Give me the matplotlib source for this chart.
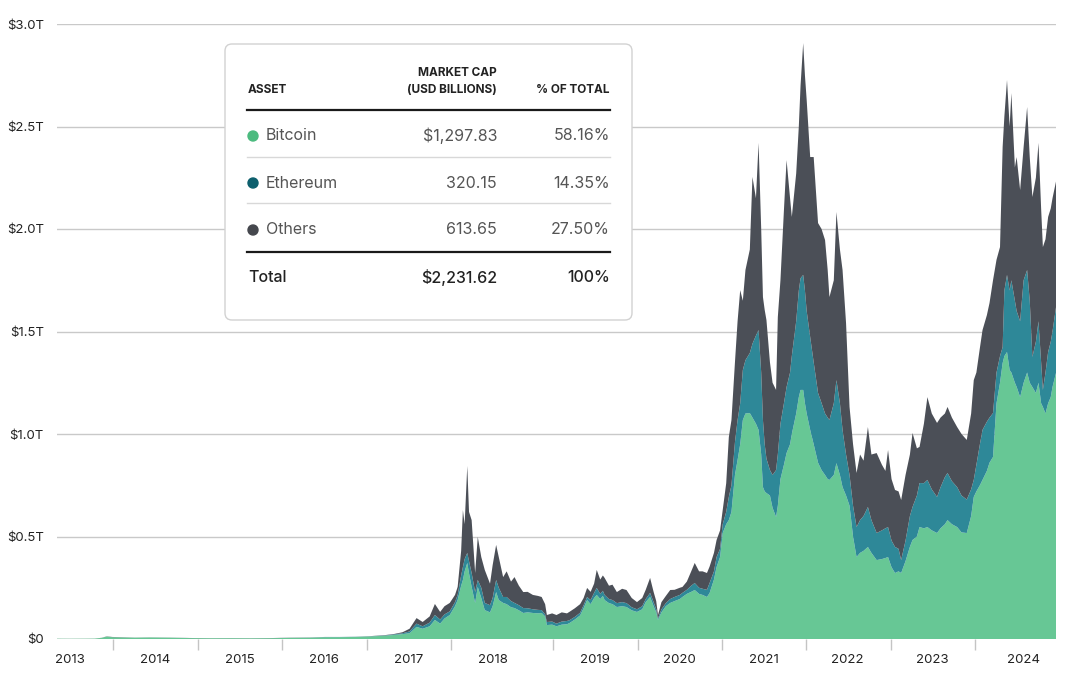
import matplotlib.pyplot as plt
import numpy as np
from matplotlib.patches import FancyBboxPatch, Circle

plt.rcParams['font.family'] = ['Inter', 'DejaVu Sans']

# time in decimal years
years = [
    2013.33, 2013.48, 2013.65, 2013.76, 2013.84, 2013.90, 2013.96, 2014.05, 2014.22, 2014.39,
    2014.62, 2014.85, 2015.08, 2015.31, 2015.54, 2015.76, 2015.99, 2016.22, 2016.39, 2016.56,
    2016.74, 2016.91, 2017.08, 2017.19, 2017.28, 2017.36, 2017.44, 2017.51, 2017.59, 2017.65,
    2017.71, 2017.76, 2017.82, 2017.88, 2017.91, 2017.95, 2017.97, 2017.99, 2018.02, 2018.04,
    2018.07, 2018.11, 2018.14, 2018.18, 2018.22, 2018.28, 2018.31, 2018.35, 2018.38, 2018.43,
    2018.47, 2018.52, 2018.56, 2018.61, 2018.66, 2018.71, 2018.77, 2018.83, 2018.87, 2018.91,
    2018.93, 2018.99, 2019.04, 2019.10, 2019.16, 2019.19, 2019.25, 2019.31, 2019.35, 2019.39,
    2019.43, 2019.47, 2019.50, 2019.54, 2019.57, 2019.59, 2019.64, 2019.68, 2019.73, 2019.79,
    2019.84, 2019.90, 2019.96, 2020.02, 2020.06, 2020.11, 2020.15, 2020.18, 2020.20, 2020.24,
    2020.29, 2020.34, 2020.39, 2020.45, 2020.48, 2020.53, 2020.58, 2020.62, 2020.67, 2020.71,
    2020.76, 2020.79, 2020.84, 2020.87, 2020.91, 2020.94, 2020.98, 2021.01, 2021.04, 2021.08,
    2021.11, 2021.14, 2021.17, 2021.20, 2021.25, 2021.28, 2021.32, 2021.35, 2021.38, 2021.40,
    2021.42, 2021.44, 2021.48, 2021.51, 2021.55, 2021.57, 2021.60, 2021.64, 2021.67, 2021.71,
    2021.73, 2021.78, 2021.81, 2021.83, 2021.86, 2021.88, 2021.90, 2021.94, 2021.98, 2022.03,
    2022.07, 2022.11, 2022.14, 2022.16, 2022.21, 2022.24, 2022.28, 2022.31, 2022.35, 2022.39,
    2022.43, 2022.47, 2022.51, 2022.55, 2022.60, 2022.64, 2022.70, 2022.76, 2022.80, 2022.83,
    2022.87, 2022.91, 2022.95, 2022.98, 2023.03, 2023.08, 2023.11, 2023.16, 2023.19, 2023.24,
    2023.28, 2023.33, 2023.39, 2023.43, 2023.48, 2023.51, 2023.56, 2023.62, 2023.67, 2023.73,
    2023.78, 2023.81, 2023.84, 2023.88, 2023.91, 2023.96, 2023.99, 2024.03, 2024.07, 2024.11,
    2024.14, 2024.16, 2024.19, 2024.22, 2024.24, 2024.28, 2024.30, 2024.34, 2024.38, 2024.42,
    2024.45, 2024.48, 2024.52, 2024.55, 2024.58, 2024.60, 2024.63, 2024.66, 2024.69, 2024.71,
    2024.75,
]

# market cap, USD billions
btc_cap = [
    1.4, 1.1, 1.4, 1.9, 5.5, 12, 9, 8, 6.5, 7.5,
    6.5, 4.5, 3.6, 3.8, 3.3, 3.9, 5.6, 6.4, 8.8, 9,
    10, 12.5, 16, 20, 24, 28, 59, 50, 62, 93,
    75, 100, 117, 160, 190, 260, 288, 330, 371, 320,
    254, 176, 254, 200, 141, 130, 160, 229, 190, 176,
    170, 155, 151, 140, 127, 130, 127, 125, 127, 110,
    68, 70, 62, 70, 72, 78, 95, 115, 150, 190,
    170, 200, 215, 195, 210, 190, 175, 170, 156, 160,
    156, 140, 132, 145, 180, 205, 160, 130, 93, 130,
    160, 176, 185, 195, 205, 220, 230, 239, 220, 215,
    205, 224, 290, 351, 400, 517, 560, 580, 620, 800,
    873, 950, 1068, 1100, 1102, 1080, 1050, 1020, 900, 741,
    720, 712, 700, 640, 595, 650, 780, 850, 907, 950,
    1000, 1100, 1180, 1215, 1215, 1150, 1100, 1020, 950, 860,
    824, 800, 780, 776, 800, 858, 800, 741, 700, 650,
    500, 400, 420, 430, 449, 420, 385, 390, 395, 400,
    350, 322, 330, 322, 380, 450, 483, 500, 546, 540,
    546, 530, 517, 540, 560, 580, 560, 546, 520, 517,
    600, 693, 720, 750, 776, 820, 860, 888, 1150, 1250,
    1346, 1380, 1400, 1312, 1300, 1250, 1230, 1180, 1250, 1300,
    1250, 1229, 1200, 1250, 1150, 1132, 1100, 1150, 1180, 1229,
    1297.83,
]

# bitcoin + ethereum (top of the teal band)
btc_eth_cap = [
    1.4, 1.1, 1.4, 1.9, 5.5, 12, 9, 8, 6.5, 7.5,
    6.5, 4.5, 3.6, 3.8, 3.4, 4.0, 5.7, 6.8, 9.8, 9.9,
    10.7, 13.3, 17.5, 23, 28, 37, 75, 62, 80, 117,
    95, 120, 135, 180, 215, 310, 351, 390, 420, 380,
    322, 229, 288, 250, 176, 165, 200, 288, 250, 205,
    205, 185, 176, 165, 151, 150, 145, 142, 141, 120,
    83, 85, 75, 85, 88, 92, 108, 128, 165, 205,
    190, 225, 249, 220, 235, 215, 195, 190, 175, 180,
    175, 155, 145, 160, 195, 225, 180, 145, 100, 145,
    175, 195, 205, 215, 225, 240, 260, 273, 250, 245,
    240, 273, 330, 400, 440, 560, 620, 693, 750, 960,
    1068, 1150, 1312, 1360, 1395, 1440, 1480, 1507, 1300, 1068,
    950, 880, 824, 800, 824, 900, 1050, 1150, 1229, 1300,
    1380, 1550, 1700, 1760, 1776, 1700, 1600, 1473, 1350, 1200,
    1151, 1100, 1080, 1068, 1150, 1263, 1150, 1020, 900, 800,
    650, 546, 580, 600, 644, 580, 517, 530, 540, 546,
    480, 449, 440, 385, 480, 600, 644, 700, 761, 760,
    776, 730, 693, 740, 790, 810, 770, 741, 700, 680,
    730, 776, 850, 950, 1020, 1060, 1080, 1102, 1300, 1380,
    1424, 1700, 1776, 1700, 1750, 1650, 1600, 1550, 1750, 1800,
    1650, 1376, 1450, 1550, 1350, 1215, 1300, 1400, 1450, 1500,
    1617.98,
]

total_cap = [
    1.5, 1.2, 1.5, 2.0, 6, 13, 10, 9, 7, 8,
    7, 5, 4, 4.2, 3.8, 4.5, 6.5, 7.5, 10, 10,
    11, 14, 19, 25, 33, 50, 102, 83, 110, 171,
    132, 160, 176, 215, 254, 430, 629, 560, 844, 620,
    580, 322, 498, 400, 337, 270, 360, 459, 400, 302,
    330, 280, 302, 260, 229, 230, 215, 210, 205, 170,
    117, 125, 117, 130, 125, 133, 150, 170, 200, 249,
    230, 270, 337, 290, 310, 298, 260, 265, 229, 245,
    239, 200, 180, 200, 240, 298, 230, 185, 117, 180,
    210, 239, 240, 250, 254, 280, 330, 371, 330, 330,
    322, 353, 420, 483, 530, 629, 760, 985, 1068, 1350,
    1550, 1702, 1650, 1800, 1900, 2254, 2150, 2420, 2000, 1668,
    1605, 1556, 1350, 1250, 1215, 1570, 1750, 2093, 2336, 2150,
    2059, 2271, 2500, 2700, 2907, 2750, 2629, 2351, 2351, 2029,
    2000, 1946, 1800, 1668, 1750, 2083, 1900, 1800, 1541, 1132,
    950, 810, 900, 870, 1034, 900, 907, 850, 820, 922,
    780, 727, 720, 678, 800, 900, 1005, 930, 937, 1050,
    1180, 1100, 1054, 1080, 1100, 1132, 1080, 1034, 1000, 971,
    1100, 1263, 1300, 1420, 1507, 1580, 1639, 1750, 1850, 1912,
    2400, 2550, 2727, 2500, 2663, 2300, 2351, 2190, 2400, 2595,
    2350, 2156, 2250, 2420, 2100, 1912, 1950, 2059, 2100, 2150,
    2231.62,
]

y_ticks = [0, 500, 1000, 1500, 2000, 2500, 3000]
y_labels = ['$0', '$0.5T', '$1.0T', '$1.5T', '$2.0T', '$2.5T', '$3.0T']
year_labels = ['2013', '2014', '2015', '2016', '2017', '2018',
               '2019', '2020', '2021', '2022', '2023', '2024']
year_label_pos = [2013.48, 2014.45, 2015.42, 2016.38, 2017.35, 2018.31,
                  2019.48, 2020.45, 2021.41, 2022.37, 2023.34, 2024.38]
year_tick_pos = [2013.97, 2014.94, 2015.90, 2016.87, 2017.83, 2019.00,
                 2019.97, 2020.93, 2021.89, 2022.86, 2023.82]

# table contents
assets = ['Bitcoin', 'Ethereum', 'Others']
asset_caps = ['$1,297.83', '320.15', '613.65']
asset_pcts = ['58.16%', '14.35%', '27.50%']
total_row = ['Total', '$2,231.62', '100%']

area_colors = ['#67c795', '#2e8898', '#4b4f57']
dot_colors = ['#4cbb7f', '#0d5f6d', '#45474d']

btc = np.array(btc_cap)
eth = np.array(btc_eth_cap) - btc
others = np.array(total_cap) - np.array(btc_eth_cap)

fig = plt.figure(figsize=(10.8, 6.86), dpi=100)
ax = fig.add_axes([57 / 1080, 47 / 686, 999 / 1080, 615 / 686])
ax.stackplot(years, btc, eth, others, colors=area_colors, linewidth=0, zorder=2)

ax.set_xlim(years[0], years[-1])
ax.set_ylim(0, 3000)
ax.set_yticks(y_ticks)
ax.set_yticklabels(y_labels)
ax.tick_params(axis='y', length=0, pad=9.5, labelsize=9.5, labelcolor='#222222')
ax.grid(axis='y', color='#c9c9c9', linewidth=1, zorder=1)
ax.set_axisbelow(True)

ax.set_xticks(year_tick_pos)
ax.set_xticklabels([''] * len(year_tick_pos))
ax.set_xticks(year_label_pos, minor=True)
ax.set_xticklabels(year_labels, minor=True)
ax.tick_params(axis='x', which='major', length=8, width=1, color='#c4c4c4')
ax.tick_params(axis='x', which='minor', length=0, pad=11, labelsize=9.5, labelcolor='#222222')
for s in ax.spines.values():
    s.set_visible(False)

# table box (units are pixels inside the box)
bw, bh = 409, 278
tab = fig.add_axes([224 / 1080, (686 - 321) / 686, bw / 1080, bh / 686])
tab.set_xlim(0, bw)
tab.set_ylim(bh, 0)
tab.axis('off')
tab.add_patch(FancyBboxPatch((1, 1), bw - 2, bh - 2, boxstyle='round,pad=0,rounding_size=7',
                             facecolor='white', edgecolor='#d2d2d2', linewidth=1, clip_on=False))

hdr = dict(fontsize=8.5, fontweight='bold', color='#222222', va='center')
tab.text(24, 47, 'ASSET', ha='left', **hdr)
tab.text(273, 30, 'MARKET CAP', ha='right', **hdr)
tab.text(273, 47, '(USD BILLIONS)', ha='right', **hdr)
tab.text(386, 47, '% OF TOTAL', ha='right', **hdr)

tab.plot([23, 386], [67, 67], color='#1a1a1a', linewidth=1.6)
tab.plot([23, 386], [114, 114], color='#d8d8d8', linewidth=1)
tab.plot([23, 386], [160, 160], color='#d8d8d8', linewidth=1)
tab.plot([23, 386], [209, 209], color='#1a1a1a', linewidth=1.6)

row_y = [93, 140, 187]
for name, cap, pct, c, yy in zip(assets, asset_caps, asset_pcts, dot_colors, row_y):
    tab.add_patch(Circle((29, yy), 5, color=c))
    tab.text(42, yy, name, ha='left', va='center', fontsize=11.5, color='#555555')
    tab.text(273, yy, cap, ha='right', va='center', fontsize=11.5, color='#555555')
    tab.text(386, yy, pct, ha='right', va='center', fontsize=11.5, color='#555555')

tab.text(24, 234, total_row[0], ha='left', va='center', fontsize=11.5, color='#222222', fontweight='medium')
tab.text(273, 234, total_row[1], ha='right', va='center', fontsize=11.5, color='#222222', fontweight='medium')
tab.text(386, 234, total_row[2], ha='right', va='center', fontsize=11.5, color='#222222', fontweight='medium')

fig.savefig('out.png', dpi=100)
